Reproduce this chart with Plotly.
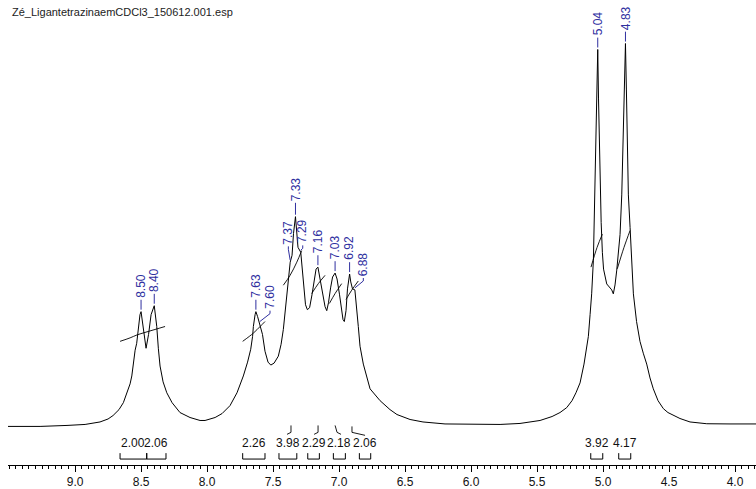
import plotly.graph_objects as go

TITLE = "Zé_LigantetrazinaemCDCl3_150612.001.esp"

# 1H spectrum trace (chemical shift in ppm, intensity in arbitrary units)
ppm = [
    9.508, 9.265, 9.061, 8.924, 8.811, 8.750, 8.712, 8.667, 8.634, 8.610,
    8.583, 8.570, 8.557, 8.545, 8.533, 8.519, 8.508, 8.500, 8.495, 8.481,
    8.462, 8.443, 8.424, 8.400, 8.394, 8.381, 8.369, 8.356, 8.333, 8.305,
    8.265, 8.205, 8.129, 8.053, 8.015, 7.939, 7.886, 7.826, 7.773, 7.725,
    7.693, 7.669, 7.655, 7.649, 7.636, 7.630, 7.617, 7.606, 7.600, 7.580,
    7.561, 7.538, 7.517, 7.492, 7.460, 7.439, 7.422, 7.409, 7.396, 7.386,
    7.377, 7.370, 7.356, 7.345, 7.330, 7.322, 7.311, 7.290, 7.280, 7.265,
    7.254, 7.240, 7.223, 7.205, 7.189, 7.174, 7.160, 7.152, 7.136, 7.121,
    7.106, 7.093, 7.080, 7.064, 7.049, 7.030, 7.015, 6.996, 6.981, 6.970,
    6.960, 6.947, 6.936, 6.920, 6.911, 6.898, 6.880, 6.873, 6.854, 6.841,
    6.816, 6.765, 6.689, 6.614, 6.561, 6.462, 6.364, 6.197, 5.985, 5.780,
    5.629, 5.477, 5.386, 5.326, 5.275, 5.235, 5.205, 5.174, 5.144, 5.123,
    5.111, 5.098, 5.086, 5.073, 5.061, 5.052, 5.040, 5.034, 5.023, 5.014,
    5.005, 4.996, 4.972, 4.934, 4.922, 4.909, 4.896, 4.883, 4.871, 4.858,
    4.848, 4.839, 4.830, 4.823, 4.817, 4.808, 4.795, 4.784, 4.770, 4.746,
    4.720, 4.695, 4.669, 4.644, 4.619, 4.583, 4.543, 4.508, 4.467, 4.417,
    4.341, 4.214, 4.038, 3.841,
]
intensity = [
    -1, -1, 0, 1, 3.5, 6.5, 10, 16, 23, 31,
    42, 50, 64, 76, 83, 100, 112, 115, 110, 92,
    78, 92, 112, 121, 114, 100, 78, 60, 44, 33,
    23, 13, 8, 5, 5, 8, 12, 20, 33, 50,
    64, 77, 90, 100, 112, 115, 110, 104, 103, 92,
    75, 64, 61, 63, 70, 82, 97, 114, 133, 150,
    162, 165, 172, 194, 211, 198, 180, 175, 160, 138,
    122, 117, 119, 132, 147, 158, 160, 154, 143, 132,
    120, 116, 124, 139, 150, 154, 148, 132, 116, 107,
    105, 116, 138, 153, 145, 138, 137, 125, 100, 80,
    62, 37, 25, 16, 11, 6, 3.5, 1.5, 1, 1,
    2, 5, 9, 13, 18, 25, 33, 43, 62, 78,
    90, 112, 133, 167, 233, 310, 380, 330, 250, 205,
    175, 158, 143, 137, 133, 142, 157, 175, 193, 233,
    290, 350, 386, 340, 280, 233, 200, 165, 133, 105,
    85, 73, 62, 48, 37, 25, 17, 13, 10, 7,
    3.5, 1.7, 1.5, 1.5,
]

# Peak picking
peak_labels = ["8.50", "8.40", "7.63", "7.60", "7.37", "7.33", "7.29",
               "7.16", "7.03", "6.92", "6.88", "5.04", "4.83"]
peak_shift = [8.50, 8.40, 7.63, 7.60, 7.37, 7.33, 7.29,
              7.16, 7.03, 6.92, 6.88, 5.04, 4.83]
peak_height = [115, 121, 115, 103, 165, 211, 175, 160, 154, 153, 137, 380, 386]

# Integral regions (ppm) and their values
int_from = [8.659, 8.457, 7.730, 7.455, 7.237, 7.043, 6.846, 5.093, 4.881]
int_to = [8.457, 8.311, 7.561, 7.320, 7.149, 6.952, 6.760, 5.002, 4.790]
int_values = ["2.00", "2.06", "2.26", "3.98", "2.29", "2.18", "2.06", "3.92", "4.17"]

# Running integral curves drawn over the multiplets
int_curve_ppm = [
    [8.659, 8.583, 8.530, 8.470, 8.394, 8.318],
    [7.730, 7.649, 7.598, 7.561],
    [7.422, 7.371, 7.320, 7.283],
    [7.207, 7.157, 7.106],
    [7.073, 7.030, 6.980],
    [6.947, 6.904, 6.854],
    [5.091, 5.045, 5.005],
    [4.892, 4.841, 4.795],
]
int_curve_val = [
    [85, 88.5, 91.5, 94, 97, 100],
    [85, 93.3, 100, 105],
    [141.7, 151.7, 165, 176.7],
    [133.3, 143.3, 151.7],
    [123.3, 133.3, 143.3],
    [127.3, 136.7, 146],
    [160, 180, 193.3],
    [158.3, 180, 197],
]

# Region split marks just under the baseline
split_ppm = [[7.364, 7.364, 7.394], [7.159, 7.159, 7.189],
             [7.030, 7.015, 6.985], [6.902, 6.902, 6.803]]
split_val = [[0, -7, -9], [0, -7, -9], [0, -7, -9], [-1, -7, -10]]

# Axis tick labels
tick_values = [9.0, 8.5, 8.0, 7.5, 7.0, 6.5, 6.0, 5.5, 5.0, 4.5, 4.0]
tick_text = ["9.0", "8.5", "8.0", "7.5", "7.0", "6.5", "6.0", "5.5", "5.0", "4.5", "4.0"]

# Label placement: offset of text from its peak (ppm, intensity units)
label_dx = [0, 0, 0, -0.077, 0.014, 0, -0.015, 0, 0, 0, -0.064, 0, 0]
label_dy = [13, 13, 13, 14, 17, 15, 8, 13, 13, 13, 13, 13, 13]

BLUE = "#2f2f9f"
FONT = "Liberation Sans, Arial, sans-serif"

fig = go.Figure()

fig.add_trace(go.Scatter(x=ppm, y=intensity, mode="lines",
                         line=dict(color="black", width=1.0),
                         hoverinfo="skip", showlegend=False))

for xs, ys in zip(int_curve_ppm, int_curve_val):
    fig.add_trace(go.Scatter(x=xs, y=ys, mode="lines", line_shape="spline",
                             line=dict(color="black", width=0.9),
                             hoverinfo="skip", showlegend=False))

for xs, ys in zip(split_ppm, split_val):
    fig.add_trace(go.Scatter(x=xs, y=ys, mode="lines",
                             line=dict(color="black", width=0.9),
                             hoverinfo="skip", showlegend=False))

# Integral brackets with values
BR_TOP, BR_BOT, BR_TXT = -28, -34, -18
for a, b, v in zip(int_from, int_to, int_values):
    fig.add_trace(go.Scatter(x=[a, a, b, b], y=[BR_TOP, BR_BOT, BR_BOT, BR_TOP],
                             mode="lines", line=dict(color="black", width=1),
                             hoverinfo="skip", showlegend=False))
    fig.add_annotation(x=(a + b) / 2, y=BR_TXT, text=v, showarrow=False,
                       font=dict(family=FONT, size=12, color="#111"),
                       xanchor="center", yanchor="middle", borderpad=0)

# Peak labels with leader lines
for lab, s, h, dx, dy in zip(peak_labels, peak_shift, peak_height, label_dx, label_dy):
    tx, ty = s + dx, h + dy
    if dx == 0:
        lx, ly = [s, s], [h + 2, ty - 1]
    else:
        lx, ly = [tx, tx, s], [ty - 1, ty - 4, h + 2]
    fig.add_trace(go.Scatter(x=lx, y=ly, mode="lines",
                             line=dict(color=BLUE, width=1),
                             hoverinfo="skip", showlegend=False))
    fig.add_annotation(x=tx, y=ty, text=lab, textangle=-90, showarrow=False,
                       font=dict(family=FONT, size=12, color=BLUE),
                       xanchor="center", yanchor="bottom",
                       borderpad=0)

fig.add_annotation(x=0.003, y=0.975, xref="paper", yref="paper",
                   text=TITLE, showarrow=False, xanchor="left", yanchor="middle",
                   font=dict(family=FONT, size=11, color="#222"))

fig.update_layout(
    width=756, height=489,
    margin=dict(l=8, r=0, t=0, b=19),
    paper_bgcolor="white", plot_bgcolor="white",
    font=dict(family=FONT, size=12, color="#111"),
    xaxis=dict(range=[9.508, 3.841], showgrid=False, zeroline=False,
               showline=True, linecolor="black", linewidth=1,
               ticks="outside", ticklen=6, tickcolor="black", tickwidth=1,
               tickmode="array", tickvals=tick_values, ticktext=tick_text,
               tickfont=dict(family=FONT, size=12, color="#111"),
               minor=dict(ticks="outside", ticklen=3, dtick=0.05, tick0=4.0,
                          tickcolor="black", showgrid=False)),
    yaxis=dict(range=[-40, 430], visible=False, showgrid=False, zeroline=False),
)

fig.write_html("out.html")
